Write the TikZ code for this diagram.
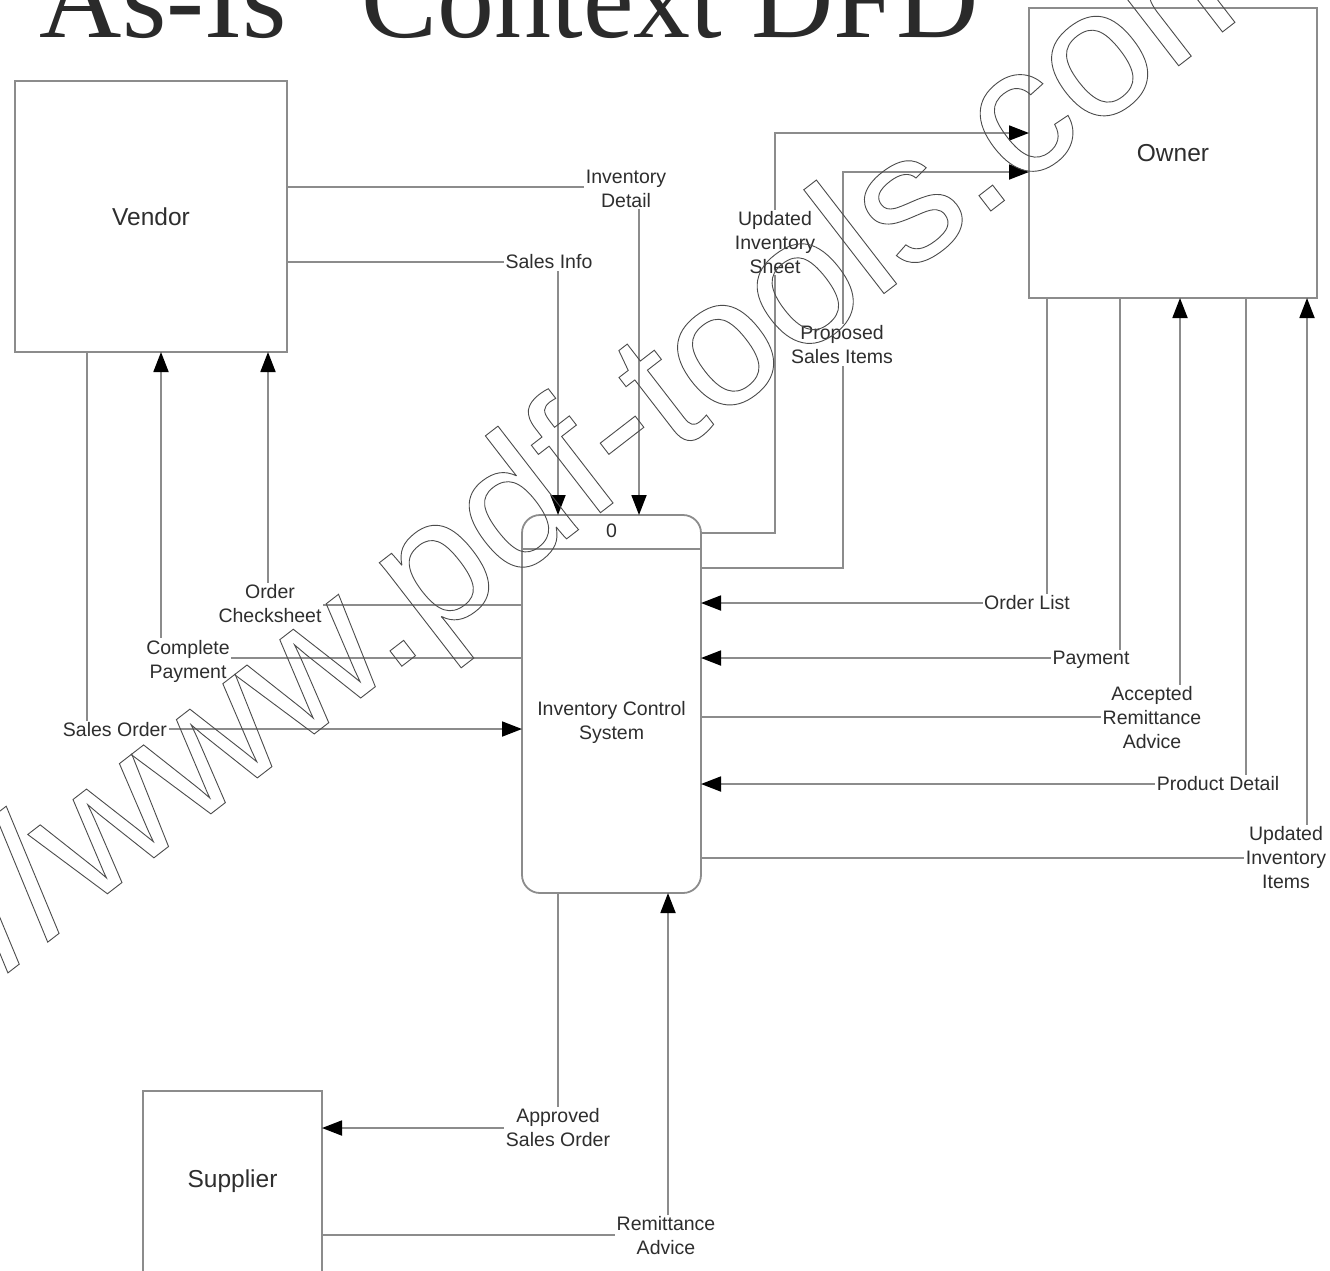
\documentclass[tikz,border=0pt]{standalone}
\usepackage{fontspec}
\setmainfont{Liberation Sans}
\newfontfamily\titlefont{Liberation Serif}
\newfontfamily\wmfont{Liberation Sans}
\usetikzlibrary{arrows.meta,calc}
\definecolor{linegray}{HTML}{8C8C8C}
\definecolor{textgray}{HTML}{2E2E2E}
\definecolor{titlegray}{HTML}{2A2A2A}
\begin{document}
\begin{tikzpicture}[x=1pt,y=-1pt,
  box/.style={draw=linegray,line width=1.8pt,fill=white,inner sep=0pt,outer sep=0pt},
  boxline/.style={draw=linegray,line width=1.8pt},
  flow/.style={draw=linegray,line width=1.8pt},
  arrowed/.style={-{Triangle[length=20pt,width=15pt,color=black]}},
  lbl/.style={fill=white,inner sep=1.5pt,text=textgray,font=\fontsize{19.5}{24}\selectfont,align=center},
  plain/.style={inner sep=1.5pt,text=textgray,font=\fontsize{19.5}{24}\selectfont,align=center},
  ent/.style={text=textgray,font=\fontsize{24.5}{29}\selectfont}]
\useasboundingbox (0,0) rectangle (1330,1270);
\clip (0,0) rectangle (1330,1270);
\fill[white] (0,0) rectangle (1330,1270);

% title (cut off at the top edge)
\node[anchor=base west,inner sep=0pt,text=titlegray,font=\titlefont\fontsize{114}{114}\selectfont] (title) at (-7,37) {"As-Is" Context DFD};

% external entities
\node[box,ent,minimum width=272pt,minimum height=271pt] (vendor) at (151,216.5) {Vendor};
\node[box,ent,minimum width=288pt,minimum height=290pt] (owner) at (1173,153) {Owner};
\node[box,minimum width=179pt,minimum height=230pt] (supplier) at (232.5,1206) {};
\node[ent] (supplierlbl) at (232.5,1181) {Supplier};

% process
\node[box,rounded corners=18pt,minimum width=179pt,minimum height=378pt] (proc) at (611.5,704) {};
\draw[boxline] ($(proc.north west)+(0,34)$) -- ($(proc.north east)+(0,34)$);
\node[plain] (procid) at (611.5,531) {0};
\node[plain] (proclbl) at (611.5,722.5) {Inventory Control\\System};

% corner points of the flows
\coordinate (kID) at (639,187);
\coordinate (kSI) at (558,262);
\coordinate (kOC) at (268,605);
\coordinate (kCP) at (161,658);
\coordinate (kSO) at (87,729);
\coordinate (kUS1) at (775,533);
\coordinate (kUS2) at (775,133);
\coordinate (kPS1) at (843,568);
\coordinate (kPS2) at (843,172);
\coordinate (kOL) at (1047,603);
\coordinate (kPay) at (1120,658);
\coordinate (kARA) at (1180,717);
\coordinate (kPD) at (1246,784);
\coordinate (kUI) at (1307,858);
\coordinate (kAS) at (558,1128);
\coordinate (kRA) at (668,1235);

% data flows
\draw[flow,arrowed] (vendor.east |- kID) -- (kID) -- (proc.north -| kID);
\draw[flow,arrowed] (vendor.east |- kSI) -- (kSI) -- (proc.north -| kSI);
\draw[flow,arrowed] (proc.west |- kOC) -- (kOC) -- (vendor.south -| kOC);
\draw[flow,arrowed] (proc.west |- kCP) -- (kCP) -- (vendor.south -| kCP);
\draw[flow,arrowed] (vendor.south -| kSO) -- (kSO) -- (proc.west |- kSO);
\draw[flow,arrowed] (proc.east |- kUS1) -- (kUS1) -- (kUS2) -- (owner.west |- kUS2);
\draw[flow,arrowed] (proc.east |- kPS1) -- (kPS1) -- (kPS2) -- (owner.west |- kPS2);
\draw[flow,arrowed] (owner.south -| kOL) -- (kOL) -- (proc.east |- kOL);
\draw[flow,arrowed] (owner.south -| kPay) -- (kPay) -- (proc.east |- kPay);
\draw[flow,arrowed] (proc.east |- kARA) -- (kARA) -- (owner.south -| kARA);
\draw[flow,arrowed] (owner.south -| kPD) -- (kPD) -- (proc.east |- kPD);
\draw[flow,arrowed] (proc.east |- kUI) -- (kUI) -- (owner.south -| kUI);
\draw[flow,arrowed] (proc.south -| kAS) -- (kAS) -- (supplier.east |- kAS);
\draw[flow,arrowed] (supplier.east |- kRA) -- (kRA) -- (proc.south -| kRA);

% flow labels
\node[lbl] (lID) at (626,188.5) {Inventory\\Detail};
\node[lbl] (lSI) at (549,262) {Sales Info};
\node[lbl] (lOC) at (270,604) {Order\\Checksheet};
\node[lbl] (lCP) at (188,661) {Complete\\Payment};
\node[lbl] (lSO) at (115,730) {Sales Order};
\node[lbl] (lUS) at (775,242.5) {Updated\\Inventory\\Sheet};
\node[lbl] (lPS) at (842,345) {Proposed\\Sales Items};
\node[lbl] (lOL) at (1027,603) {Order List};
\node[lbl] (lPay) at (1091,660) {Payment};
\node[lbl] (lARA) at (1152,717.5) {Accepted\\Remittance\\Advice};
\node[lbl] (lPD) at (1218,784) {Product Detail};
\node[lbl] (lUI) at (1286,858) {Updated\\Inventory\\Items};
\node[lbl] (lAS) at (558,1127.5) {Approved\\Sales Order};
\node[lbl] (lRA) at (666,1236) {Remittance\\Advice};

% watermark (outlined text)
\node[rotate=37.7,anchor=base west,inner sep=0pt,font=\wmfont\fontsize{181}{181}\selectfont] (wm) at (-272,1187) {\special{pdf:literal direct 1 Tr 0.9 w 0.3 G}http://www.pdf-tools.com\special{pdf:literal direct 0 Tr}};
\end{tikzpicture}
\end{document}
